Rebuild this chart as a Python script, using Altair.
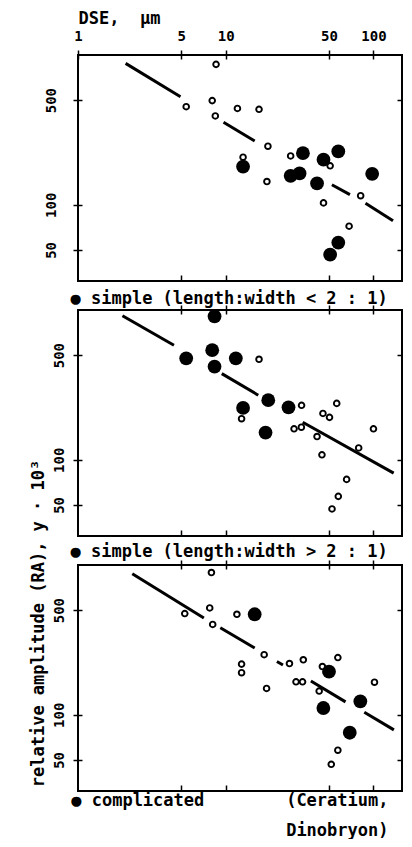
import altair as alt
import pandas as pd

FONT = "DejaVu Sans Mono"
NB = "\u00a0"

X_TICKS = [1, 5, 10, 50, 100]
Y_TICKS = [50, 100, 500]
X_DOMAIN = [1, 156]
Y_DOMAIN = [31, 1000]

# ---- Panel 1: simple (length:width < 2:1) ----
p1_open_dse = [8.6, 5.4, 8.1, 8.5, 12.0, 16.8, 19.3, 13.1, 19.0, 27.5, 50.9, 45.9, 81.9, 68.4]
p1_open_ra = [866, 452, 496, 392, 440, 434, 246, 208, 143, 212, 182, 103, 115, 72]
p1_fill_dse = [13.1, 33.3, 57.8, 45.9, 27.5, 31.6, 41.5, 98, 57.8, 50.9]
p1_fill_ra = [180, 221, 227, 200, 156, 162, 139, 161, 56, 46.5]
p1_seg_dse1 = [2.10, 9.66, 52.3, 88.3]
p1_seg_ra1 = [879, 356, 136, 102.5]
p1_seg_dse2 = [4.94, 15.7, 69.3, 135.6]
p1_seg_ra2 = [527, 267, 117, 78.2]

# ---- Panel 2: simple (length:width > 2:1) ----
p2_open_dse = [16.8, 12.8, 32.6, 56.4, 45.5, 50.4, 29.0, 32.5, 41.5, 44.8, 79.4, 100, 65.8, 57.8, 52.4]
p2_open_ra = [469, 188, 231, 238, 204, 192, 161, 165, 143, 108, 120, 161, 74, 57, 47]
p2_fill_dse = [8.4, 5.4, 8.1, 8.4, 11.7, 13.1, 19.4, 26.6, 18.6]
p2_fill_ra = [907, 476, 539, 419, 476, 222, 250, 224, 152]
p2_seg_dse1 = [2.00, 9.40, 33.2]
p2_seg_ra1 = [916, 376, 178]
p2_seg_dse2 = [4.46, 16.6, 137]
p2_seg_ra2 = [582, 270, 81.5]

# ---- Panel 3: complicated (Ceratium, Dinobryon) ----
p3_open_dse = [8.0, 5.28, 7.79, 8.16, 11.9, 18.2, 12.8, 12.8, 18.9, 27.0, 33.5, 29.9, 33.1,
               45.1, 57.4, 42.9, 101.6, 57.4, 51.8]
p3_open_ra = [891, 474, 517, 401, 469, 252, 218, 191, 150, 220, 233, 166, 166,
              210, 241, 144, 165, 58, 46.7]
p3_fill_dse = [15.7, 50.0, 45.8, 81.5, 69.1]
p3_fill_ra = [469, 194, 111, 123, 75.9]
p3_seg_dse1 = [2.33, 9.19, 22.2, 37.7, 86.7]
p3_seg_ra1 = [874, 381, 227, 168, 104]
p3_seg_dse2 = [7.11, 15.7, 24.4, 64.7, 137.5]
p3_seg_ra2 = [443, 279, 215, 122, 79.3]

LEGEND_1 = "● simple (length:width < 2 : 1)"
LEGEND_2 = "● simple (length:width > 2 : 1)"
LEGEND_3 = ["● complicated" + NB * 8 + "(Ceratium,", "Dinobryon)"]
X_TITLE = "DSE," + NB * 2 + "µm"
Y_TITLE = "relative amplitude (RA), y · 10³"

W = 324
H = 226
WEIGHT = "bold"


def pts(dse, ra):
    return pd.DataFrame({"dse": dse, "ra": ra})


def segs(d1, r1, d2, r2):
    return pd.DataFrame({"dse": d1, "ra": r1, "dse2": d2, "ra2": r2})


xs = alt.Scale(type="log", domain=X_DOMAIN, nice=False)
ys = alt.Scale(type="log", domain=Y_DOMAIN, nice=False)

common = dict(domain=False, grid=False, tickColor="black", tickWidth=1.5,
              labelOverlap=False, labelFlush=False)
ttl = dict(titleFont=FONT, titleFontWeight=WEIGHT, titleColor="black")
lab = dict(labelFont=FONT, labelFontSize=14, labelFontWeight=WEIGHT, labelColor="black")


def panel(open_df, fill_df, seg_df, first, bottom_title, bottom_title_y, label_pad, y_title,
          multi=False):
    top_kw = dict(orient="top", offset=-4, tickSize=9, **common)
    if first:
        top_kw.update(values=X_TICKS, labels=True, format="d", labelPadding=10,
                      labelBaseline="alphabetic", title=X_TITLE, titleFontSize=17, titleX=0,
                      titleY=-36, titleAlign="left", titleBaseline="alphabetic", **lab, **ttl)
    else:
        top_kw.update(values=X_TICKS[1:], labels=False, title="")

    left_kw = dict(orient="left", values=Y_TICKS, offset=-4, tickSize=9, labels=True,
                   format="d", labelAngle=270, labelAlign="center", labelBaseline="alphabetic",
                   labelPadding=label_pad, **lab, **common)
    if y_title:
        left_kw.update(title=Y_TITLE, titleFontSize=17, titleAngle=270, titleX=-39, titleY=58,
                       titleAlign="center", titleBaseline="alphabetic", **ttl)
    else:
        left_kw.update(title="")

    bottom_kw = dict(orient="bottom", values=X_TICKS[1:], offset=-6, tickSize=6, labels=False,
                     title=bottom_title, titleFontSize=17, titleY=bottom_title_y,
                     titleBaseline="alphabetic", titleLineHeight=30, **ttl, **common)
    if multi:
        bottom_kw.update(titleAlign="right", titleX=310)
    else:
        bottom_kw.update(titleAlign="left", titleX=-8)
    right_kw = dict(orient="right", values=Y_TICKS, offset=-5, tickSize=5, labels=False,
                    title="", **common)

    rules = alt.Chart(seg_df).mark_rule(color="black", strokeWidth=3, strokeCap="butt").encode(
        x=alt.X("dse:Q", scale=xs, axis=None),
        y=alt.Y("ra:Q", scale=ys, axis=None),
        x2="dse2:Q",
        y2="ra2:Q",
    )
    opens = alt.Chart(open_df).mark_point(shape="circle", filled=False, size=32, strokeWidth=1.9,
                                          color="black", opacity=1).encode(
        x=alt.X("dse:Q", scale=xs, axis=alt.Axis(**top_kw)),
        y=alt.Y("ra:Q", scale=ys, axis=alt.Axis(**left_kw)),
    )
    fills = alt.Chart(fill_df).mark_circle(size=190, color="black", opacity=1).encode(
        x=alt.X("dse:Q", scale=xs, axis=alt.Axis(**bottom_kw)),
        y=alt.Y("ra:Q", scale=ys, axis=alt.Axis(**right_kw)),
    )
    return alt.layer(rules, opens, fills).properties(width=W, height=H).resolve_axis(
        x="independent", y="independent")


p1 = panel(pts(p1_open_dse, p1_open_ra), pts(p1_fill_dse, p1_fill_ra),
           segs(p1_seg_dse1, p1_seg_ra1, p1_seg_dse2, p1_seg_ra2),
           True, LEGEND_1, 28, 18, False)
p2 = panel(pts(p2_open_dse, p2_open_ra), pts(p2_fill_dse, p2_fill_ra),
           segs(p2_seg_dse1, p2_seg_ra1, p2_seg_dse2, p2_seg_ra2),
           False, LEGEND_2, 26, 10, False)
p3 = panel(pts(p3_open_dse, p3_open_ra), pts(p3_fill_dse, p3_fill_ra),
           segs(p3_seg_dse1, p3_seg_ra1, p3_seg_dse2, p3_seg_ra2),
           False, LEGEND_3, 20, 10, True, multi=True)

chart = alt.vconcat(p1, p2, p3, spacing=29, bounds="flush").properties(
    padding={"left": 19, "top": 0, "right": 0, "bottom": 0},
    background="white",
).configure(font=FONT).configure_view(stroke="black", strokeWidth=2)

chart.save("out.html", embed_options={"renderer": "svg", "actions": False})
